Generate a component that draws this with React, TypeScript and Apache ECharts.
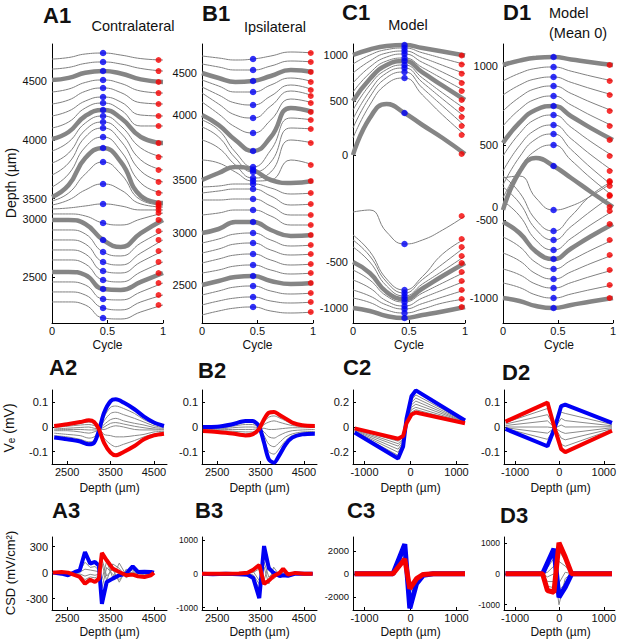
import React, { useEffect, useRef } from "react";
import * as echarts from "echarts";

const FONT = "'Liberation Sans', Arial, Helvetica, sans-serif";

// ---------- Row 1: traces vs cycle (plotted depth units) ----------
const cycleT = [0, 0.15, 0.3, 0.46, 0.62, 0.8, 1];
const blueCycle = 0.46;
const depthTickLabels = ["4500", "4000", "3500", "3000", "2500"];
const modelTickLabels = ["1000", "500", "0", "-500", "-1000"];

const a1Traces = [
  [4687, 4700, 4730, 4738, 4721, 4691, 4679],
  [4602, 4616, 4650, 4662, 4645, 4607, 4585],
  [4509, 4527, 4570, 4585, 4564, 4514, 4492],
  [4407, 4432, 4488, 4509, 4480, 4415, 4398],
  [4305, 4339, 4413, 4441, 4402, 4316, 4305],
  [4203, 4245, 4330, 4364, 4322, 4211, 4203],
  [4101, 4152, 4271, 4313, 4254, 4118, 4118],
  [4007, 4067, 4203, 4254, 4186, 4024, 3973],
  [3905, 3982, 4143, 4203, 4118, 3931, 3854],
  [3803, 3888, 4084, 4152, 4058, 3829, 3744],
  [3701, 3803, 4024, 4101, 3990, 3735, 3642],
  [3599, 3710, 3939, 4024, 3905, 3633, 3548],
  [3514, 3616, 3846, 3931, 3812, 3523, 3463],
  [3480, 3548, 3710, 3812, 3710, 3489, 3446],
  [3446, 3489, 3574, 3625, 3574, 3455, 3429],
  [3412, 3421, 3438, 3455, 3438, 3404, 3404],
  [3370, 3370, 3353, 3293, 3276, 3327, 3378],
  [3319, 3319, 3285, 3149, 3089, 3208, 3319],
  [3234, 3234, 3200, 3047, 3013, 3123, 3225],
  [3149, 3149, 3115, 2962, 2936, 3038, 3149],
  [3064, 3064, 3030, 2885, 2868, 2962, 3055],
  [2979, 2979, 2945, 2809, 2792, 2877, 2962],
  [2877, 2877, 2851, 2732, 2724, 2792, 2868],
  [2792, 2792, 2766, 2647, 2639, 2707, 2783],
  [2707, 2707, 2681, 2571, 2554, 2622, 2681],
  [2622, 2622, 2596, 2486, 2477, 2537, 2596],
];
const a1Thick = [2, 7, 12, 17, 22];
const a1TickValues = [4500, 4000, 3500, 3330, 2830];

const b1Traces = [
  [4670, 4650, 4630, 4640, 4670, 4710, 4700],
  [4590, 4560, 4530, 4530, 4570, 4620, 4610],
  [4500, 4450, 4410, 4420, 4470, 4530, 4510],
  [4430, 4370, 4310, 4310, 4380, 4450, 4410],
  [4360, 4280, 4200, 4180, 4270, 4380, 4330],
  [4300, 4190, 4080, 4050, 4170, 4320, 4270],
  [4210, 4090, 3960, 3900, 4030, 4240, 4200],
  [4080, 3980, 3830, 3720, 3860, 4150, 4110],
  [4030, 3930, 3710, 3560, 3730, 4050, 4030],
  [3960, 3860, 3650, 3510, 3610, 3950, 3940],
  [3830, 3750, 3580, 3450, 3510, 3830, 3800],
  [3630, 3600, 3510, 3420, 3430, 3630, 3580],
  [3430, 3500, 3560, 3530, 3430, 3400, 3420],
  [3360, 3370, 3390, 3390, 3350, 3290, 3300],
  [3300, 3320, 3340, 3340, 3270, 3180, 3190],
  [3230, 3230, 3240, 3240, 3170, 3080, 3080],
  [3080, 3100, 3130, 3130, 3070, 2980, 2980],
  [2900, 2940, 3010, 3010, 2930, 2870, 2880],
  [2800, 2840, 2890, 2900, 2830, 2770, 2780],
  [2700, 2740, 2790, 2800, 2730, 2680, 2690],
  [2600, 2640, 2680, 2690, 2630, 2580, 2590],
  [2500, 2530, 2570, 2580, 2530, 2490, 2500],
  [2380, 2420, 2460, 2470, 2420, 2390, 2400],
  [2280, 2320, 2360, 2370, 2320, 2290, 2300],
  [2180, 2220, 2250, 2260, 2220, 2200, 2210],
  [2080, 2120, 2150, 2160, 2120, 2100, 2110],
];
const b1Thick = [2, 7, 12, 17, 22];
const b1TickValues = [4500, 4080, 3430, 2900, 2380];

const c1Traces = [
  [1020, 1075, 1110, 1120, 1090, 1055, 1015],
  [930, 1020, 1074, 1090, 1042, 986, 925],
  [840, 960, 1040, 1060, 994, 917, 833],
  [740, 900, 1000, 1030, 946, 848, 740],
  [650, 840, 960, 990, 894, 782, 660],
  [560, 780, 920, 960, 846, 713, 570],
  [470, 720, 875, 920, 790, 640, 480],
  [380, 660, 840, 890, 746, 580, 400],
  [290, 600, 794, 850, 690, 510, 310],
  [190, 520, 730, 790, 620, 420, 220],
  [20, 390, 530, 440, 320, 190, 30],
  [-550, -530, -750, -870, -830, -730, -590],
  [-780, -945, -1220, -1330, -1195, -970, -820],
  [-830, -990, -1250, -1360, -1225, -1070, -900],
  [-900, -1050, -1290, -1390, -1270, -1140, -990],
  [-1050, -1160, -1350, -1420, -1315, -1190, -1060],
  [-1130, -1230, -1390, -1450, -1360, -1260, -1150],
  [-1230, -1310, -1440, -1490, -1410, -1330, -1240],
  [-1330, -1390, -1480, -1520, -1465, -1400, -1330],
  [-1410, -1455, -1530, -1560, -1520, -1460, -1420],
  [-1510, -1540, -1590, -1610, -1580, -1545, -1500],
];
const c1Thick = [0, 5, 10, 15, 20];
const c1TickValues = [1020, 560, 20, -1050, -1510];

const d1Traces = [
  [1010, 1054, 1082, 1090, 1066, 1038, 1010],
  [850, 927, 976, 990, 948, 899, 850],
  [710, 809, 872, 890, 836, 773, 710],
  [550, 687, 775, 800, 725, 637, 550],
  [400, 565, 670, 700, 610, 505, 400],
  [230, 433, 563, 600, 498, 379, 260],
  [100, 325, 470, 510, 387, 243, 100],
  [-50, 203, 364, 410, 272, 111, -50],
  [-190, 90, 270, 320, 164, -18, -200],
  [-320, -29, 157, 210, 57, -122, -300],
  [-440, -60, 80, 0, -120, -260, -410],
  [-120, -100, -320, -440, -400, -300, -160],
  [-100, -265, -540, -650, -500, -293, -150],
  [-210, -370, -634, -740, -605, -450, -290],
  [-350, -497, -742, -840, -723, -587, -450],
  [-560, -670, -856, -930, -825, -703, -580],
  [-710, -806, -966, -1030, -943, -842, -740],
  [-870, -948, -1078, -1130, -1058, -974, -890],
  [-1030, -1087, -1182, -1220, -1166, -1103, -1040],
  [-1170, -1215, -1290, -1320, -1280, -1235, -1190],
  [-1320, -1350, -1400, -1420, -1390, -1355, -1320],
];
const d1Thick = [0, 5, 10, 15, 20];
const d1TickValues = [1000, 210, -410, -540, -1320];

// ---------- Row 2: Ve profiles (mV) vs depth ----------
const a2Depth = [2200, 2500, 2800, 3000, 3120, 3230, 3350, 3500, 3620, 3800, 4050, 4270, 4500, 4730];
const a2Blue = [-0.043, -0.05, -0.059, -0.07, -0.064, -0.016, 0.058, 0.105, 0.112, 0.099, 0.072, 0.042, 0.018, 0.004];
const a2Red = [0.004, 0.011, 0.02, 0.027, 0.02, -0.009, -0.064, -0.104, -0.115, -0.101, -0.077, -0.05, -0.034, -0.027];
const a2Gray = [
  [-0.035, -0.04, -0.05, -0.06, -0.055, -0.02, 0.04, 0.08, 0.085, 0.075, 0.055, 0.03, 0.012, 0.002],
  [-0.025, -0.03, -0.035, -0.045, -0.04, -0.015, 0.025, 0.055, 0.06, 0.05, 0.035, 0.02, 0.005, -0.002],
  [-0.015, -0.015, -0.02, -0.025, -0.02, -0.01, 0.01, 0.03, 0.035, 0.025, 0.015, 0.008, -0.002, -0.006],
  [-0.012, -0.01, -0.01, -0.012, -0.012, -0.01, 0.0, 0.015, 0.018, 0.012, 0.003, -0.003, -0.008, -0.01],
  [-0.008, -0.005, -0.002, 0.0, -0.005, -0.008, -0.01, 0.0, 0.005, 0.0, -0.01, -0.012, -0.012, -0.012],
  [-0.002, 0.003, 0.008, 0.01, 0.006, -0.005, -0.03, -0.035, -0.04, -0.04, -0.035, -0.03, -0.02, -0.018],
  [0.0, 0.007, 0.015, 0.02, 0.014, -0.007, -0.045, -0.07, -0.08, -0.07, -0.055, -0.04, -0.028, -0.022],
];

const b2Depth = [2170, 2500, 2850, 3150, 3310, 3460, 3580, 3690, 3810, 3920, 4080, 4230, 4460, 4750];
const b2Blue = [0, 0.001, 0.011, 0.024, 0.024, 0.004, -0.064, -0.131, -0.145, -0.118, -0.07, -0.043, -0.03, -0.027];
const b2Red = [-0.016, -0.02, -0.026, -0.034, -0.03, -0.009, 0.031, 0.058, 0.061, 0.051, 0.034, 0.018, 0.007, 0.004];
const b2Gray = [
  [0.0, 0.0, 0.008, 0.018, 0.018, 0.0, -0.05, -0.1, -0.11, -0.09, -0.055, -0.035, -0.025, -0.022],
  [-0.003, -0.004, 0.003, 0.01, 0.01, -0.002, -0.035, -0.07, -0.08, -0.065, -0.04, -0.028, -0.02, -0.018],
  [-0.006, -0.008, -0.003, 0.0, 0.0, -0.004, -0.02, -0.04, -0.045, -0.035, -0.022, -0.015, -0.012, -0.01],
  [-0.009, -0.011, -0.01, -0.01, -0.01, -0.006, -0.005, -0.01, -0.01, -0.008, -0.005, -0.003, -0.003, -0.002],
  [-0.012, -0.015, -0.017, -0.02, -0.02, -0.008, 0.01, 0.02, 0.025, 0.02, 0.012, 0.006, 0.002, 0.001],
  [-0.014, -0.018, -0.022, -0.028, -0.025, -0.008, 0.02, 0.04, 0.045, 0.038, 0.025, 0.012, 0.005, 0.003],
];

const c2Depth = [-1215, -270, -160, -87, 22, 116, 1185];
const c2Blue = [-0.045, -0.255, -0.157, 0.067, 0.249, 0.297, 0.053];
const c2Red = [-0.011, -0.095, -0.073, 0.03, 0.101, 0.118, 0.031];
const c2Gray = [
  [-0.04, -0.23, -0.14, 0.06, 0.22, 0.26, 0.048],
  [-0.035, -0.205, -0.13, 0.055, 0.2, 0.235, 0.045],
  [-0.03, -0.18, -0.12, 0.05, 0.18, 0.21, 0.042],
  [-0.025, -0.155, -0.105, 0.047, 0.16, 0.185, 0.04],
  [-0.02, -0.135, -0.095, 0.045, 0.14, 0.16, 0.037],
  [-0.015, -0.115, -0.085, 0.042, 0.12, 0.14, 0.034],
];

const d2Depth = [-1215, -269, -100, 40, 131, 1185];
const d2Blue = [-0.008, -0.078, 0.0, 0.085, 0.091, 0.017];
const d2Red = [0.022, 0.099, -0.01, -0.09, -0.102, -0.015];
const d2Gray = [
  [0.018, 0.075, 0.0, -0.07, -0.078, -0.011],
  [0.012, 0.05, -0.002, -0.045, -0.052, -0.007],
  [0.006, 0.025, -0.004, -0.02, -0.026, -0.003],
  [0.0, 0.0, -0.004, 0.008, 0.0, 0.001],
  [-0.003, -0.025, -0.003, 0.035, 0.026, 0.005],
  [-0.006, -0.05, -0.002, 0.06, 0.055, 0.01],
];

// ---------- Row 3: CSD profiles (mV/cm^2) vs depth ----------
const a3Depth = [2170, 2370, 2520, 2680, 2790, 2910, 3030, 3140, 3230, 3300, 3410, 3550, 3700, 3860, 4010, 4130, 4280, 4430, 4500];
const a3Blue = [0, -12, -30, 8, 27, 238, 104, 123, 80, -358, -108, -69, -31, -12, 73, 8, 10, 8, 0];
const a3Red = [0, 8, 0, -30, -50, -127, -81, -108, -69, 227, 142, 46, 8, -31, -23, -42, -50, -31, 0];
const a3Gray = [
  [0, -5, -15, 5, 15, 120, 60, 70, 30, -180, 60, -20, -80, 10, 30, 5, 5, 5, 0],
  [0, 5, -5, -10, -15, -40, -20, -30, -20, 100, -90, 100, 50, -60, 0, -10, -15, -10, 0],
  [0, 0, -10, 0, 5, 40, 30, 20, 10, -80, 130, -60, 110, -30, 10, 0, -5, 0, 0],
  [0, 3, -8, -15, -25, -80, -50, -60, -40, 160, -40, 40, -110, 40, -20, -10, -25, -15, 0],
];

const b3Depth = [2150, 2400, 2700, 3000, 3200, 3330, 3470, 3580, 3690, 3800, 3940, 4020, 4130, 4300, 4500, 4700];
const b3Blue = [0, -10, 5, -15, -30, -120, -720, 822, 168, 28, -65, -40, -60, 10, 0, 0];
const b3Red = [0, 5, 0, 10, 30, 120, 262, -299, -200, -65, 28, 150, -19, 28, 0, 0];
const b3Gray = [
  [0, -5, 0, -10, -20, -80, -450, 500, 120, 20, -40, -20, -40, 5, 0, 0],
  [0, 0, 3, 0, 10, 40, 150, -200, 300, -150, 20, 60, -20, 10, 0, 0],
  [0, 3, 0, 5, 15, 70, -200, 200, -300, 200, -50, 80, -10, 15, 0, 0],
  [0, -3, 2, -5, -10, -30, -300, 350, -100, 50, 0, 30, -30, 5, 0, 0],
];

const c3Depth = [-1215, -380, -124, -15, 131, 276, 494, 1185];
const c3Blue = [0, 0, 2570, -3000, -860, -140, 0, 0];
const c3Red = [0, 0, 1290, -1290, -430, -60, 0, 0];
const c3Gray = [
  [0, 0, 2200, -2600, -750, -120, 0, 0],
  [0, 0, 1900, -2200, -650, -100, 0, 0],
  [0, 0, 1600, -1700, -550, -80, 0, 0],
];

const d3Depth = [-1215, -380, -270, -124, -10, 131, 276, 1185];
const d3Blue = [0, 0, 350, 810, -760, -430, 0, 0];
const d3Red = [0, 0, -540, -595, 1000, 540, 0, 0];
const d3Gray = [
  [0, 0, 200, 500, -550, -300, 0, 0],
  [0, 0, 50, 250, -1000, -150, 0, 0],
  [0, 0, -100, 0, -300, 50, 0, 0],
  [0, 0, -250, -250, 400, 250, 0, 0],
  [0, 0, -400, -450, 750, 420, 0, 0],
];

// ---------- builders ----------
const BLUE = "#0000f5";
const RED = "#f50000";
const GRAY = "#808080";

function makeAxis(gi: number, dim: "x" | "y", min: number, max: number, ticks: number[], labels: string[] | null, margin: number, fontSize: number) {
  return {
    type: "value",
    gridIndex: gi,
    min,
    max,
    position: dim === "x" ? "bottom" : "left",
    axisLine: { show: true, onZero: false, lineStyle: { color: "#000", width: 1 } },
    axisTick: { show: true, inside: true, length: 3, customValues: ticks, lineStyle: { color: "#000", width: 1 } },
    axisLabel: {
      show: true,
      customValues: ticks,
      margin,
      fontSize,
      fontFamily: FONT,
      color: "#111",
      formatter: (v: number) => {
        if (!labels) return String(v);
        const i = ticks.indexOf(v);
        return i >= 0 ? labels[i] : "";
      },
    },
    splitLine: { show: false },
    splitArea: { show: false },
  };
}

function buildOption() {
  const grids: any[] = [];
  const xAxes: any[] = [];
  const yAxes: any[] = [];
  const series: any[] = [];

  const addGrid = (left: number, top: number, width: number, height: number) => {
    grids.push({ left, top, width, height, containLabel: false });
    return grids.length - 1;
  };
  const lineSeries = (gi: number, xs: number[], ys: number[], color: string, width: number, smooth: number | boolean, z: number) => ({
    type: "line",
    xAxisIndex: gi,
    yAxisIndex: gi,
    data: xs.map((x, i) => [x, ys[i]]),
    symbol: "none",
    showSymbol: false,
    smooth,
    lineStyle: { color, width },
    silent: true,
    z,
  });

  const row1 = [
    { traces: a1Traces, thick: a1Thick, left: 52, width: 111, yMin: 2443, yMax: 4815, ticks: a1TickValues, labels: depthTickLabels, redT: 0.96 },
    { traces: b1Traces, thick: b1Thick, left: 202, width: 111, yMin: 2000, yMax: 4790, ticks: b1TickValues, labels: depthTickLabels, redT: 0.98 },
    { traces: c1Traces, thick: c1Thick, left: 353, width: 112, yMin: -1660, yMax: 1130, ticks: c1TickValues, labels: modelTickLabels, redT: 0.97 },
    { traces: d1Traces, thick: d1Thick, left: 503, width: 112, yMin: -1570, yMax: 1220, ticks: d1TickValues, labels: modelTickLabels, redT: 0.97 },
  ];
  row1.forEach((p) => {
    const gi = addGrid(p.left, 44, p.width, 279);
    xAxes.push(makeAxis(gi, "x", 0, 1, [0, 0.5, 1], null, 2, 11));
    yAxes.push(makeAxis(gi, "y", p.yMin, p.yMax, p.ticks, p.labels, 5, 11));
    p.traces.forEach((tr, k) => {
      const thick = p.thick.indexOf(k) >= 0;
      series.push(lineSeries(gi, cycleT, tr, thick ? "#858585" : GRAY, thick ? 4.5 : 1, 0.5, thick ? 3 : 2));
    });
    series.push({
      type: "scatter", xAxisIndex: gi, yAxisIndex: gi, symbol: "circle", symbolSize: 6.5, silent: true, z: 5,
      itemStyle: { color: BLUE }, data: p.traces.map((tr) => [blueCycle, tr[3]]),
    });
    series.push({
      type: "scatter", xAxisIndex: gi, yAxisIndex: gi, symbol: "circle", symbolSize: 6, silent: true, z: 5,
      itemStyle: { color: RED }, data: p.traces.map((tr) => [p.redT, tr[6]]),
    });
  });

  const profile = (p: any, top: number, height: number) => {
    const gi = addGrid(p.left, top, p.width, height);
    xAxes.push(makeAxis(gi, "x", p.xMin, p.xMax, p.xTicks, null, 2, 11));
    yAxes.push(makeAxis(gi, "y", p.yMin, p.yMax, p.yTicks, null, 4, p.yFont));
    p.gray.forEach((g: number[]) => series.push(lineSeries(gi, p.depth, g, "#8a8a8a", 1, p.smooth, 2)));
    series.push(lineSeries(gi, p.depth, p.blue, BLUE, p.lw, p.smooth, 3));
    series.push(lineSeries(gi, p.depth, p.red, RED, p.lw, p.smooth, 4));
  };

  const depthA = { xMin: 2150, xMax: 4800, xTicks: [2500, 3500, 4500] };
  const depthC = { xMin: -1250, xMax: 1250, xTicks: [-1000, 0, 1000] };

  profile({ ...depthA, depth: a2Depth, blue: a2Blue, red: a2Red, gray: a2Gray, left: 52, width: 115, yMin: -0.15, yMax: 0.15, yTicks: [-0.1, 0, 0.1], yFont: 11, smooth: 0.3, lw: 4 }, 390, 74);
  profile({ ...depthA, depth: b2Depth, blue: b2Blue, red: b2Red, gray: b2Gray, left: 202, width: 115, yMin: -0.15, yMax: 0.15, yTicks: [-0.1, 0, 0.1], yFont: 11, smooth: 0.3, lw: 4 }, 390, 74);
  profile({ ...depthC, depth: c2Depth, blue: c2Blue, red: c2Red, gray: c2Gray, left: 353, width: 115, yMin: -0.3, yMax: 0.3, yTicks: [-0.2, 0, 0.2], yFont: 11, smooth: false, lw: 4 }, 390, 74);
  profile({ ...depthC, depth: d2Depth, blue: d2Blue, red: d2Red, gray: d2Gray, left: 504, width: 113, yMin: -0.15, yMax: 0.15, yTicks: [-0.1, 0, 0.1], yFont: 11, smooth: false, lw: 4 }, 390, 74);

  profile({ ...depthA, depth: a3Depth, blue: a3Blue, red: a3Red, gray: a3Gray, left: 52, width: 115, yMin: -430, yMax: 410, yTicks: [-300, 0, 300], yFont: 11, smooth: false, lw: 4 }, 537, 73);
  profile({ ...depthA, depth: b3Depth, blue: b3Blue, red: b3Red, gray: b3Gray, left: 202, width: 115, yMin: -1070, yMax: 1090, yTicks: [-1000, 0, 1000], yFont: 8.5, smooth: false, lw: 4 }, 537, 73);
  profile({ ...depthC, depth: c3Depth, blue: c3Blue, red: c3Red, gray: c3Gray, left: 353, width: 115, yMin: -3150, yMax: 3200, yTicks: [-2000, 0, 2000], yFont: 9.5, smooth: false, lw: 5 }, 537, 73);
  profile({ ...depthC, depth: d3Depth, blue: d3Blue, red: d3Red, gray: d3Gray, left: 504, width: 113, yMin: -1170, yMax: 1190, yTicks: [-1000, 0, 1000], yFont: 8.5, smooth: false, lw: 5 }, 537, 73);

  const txt = (text: string, x: number, y: number, size: number, opts: any = {}) => ({
    type: "text",
    x,
    y,
    rotation: opts.rotation || 0,
    silent: true,
    z: 100,
    style: {
      text,
      font: `${opts.bold ? "bold " : ""}${size}px ${FONT}`,
      fill: "#111",
      align: opts.align || "center",
      textAlign: opts.align || "center",
      verticalAlign: "middle",
      textVerticalAlign: "middle",
      rich: opts.rich,
    },
  });

  const titles: [string, number, number][] = [
    ["A1", 43, 15], ["B1", 202, 13], ["C1", 342, 12], ["D1", 503, 12],
    ["A2", 49, 367], ["B2", 198, 370], ["C2", 343, 367], ["D2", 502, 372],
    ["A3", 52, 510], ["B3", 195, 510], ["C3", 347, 510], ["D3", 500, 515],
  ];
  const elements: any[] = titles.map(([t, x, y]) => txt(t, x, y, 22, { bold: true, align: "left" }));
  elements.push(txt("Contralateral", 133, 26, 14.5));
  elements.push(txt("Ipsilateral", 275, 27, 14.5));
  elements.push(txt("Model", 408, 25, 14.5));
  elements.push(txt("Model", 549, 13, 14.5, { align: "left" }));
  elements.push(txt("(Mean 0)", 549, 33, 14.5, { align: "left" }));
  elements.push(txt("Depth (µm)", 11, 183, 14, { rotation: Math.PI / 2 }));
  [107.5, 257.5, 409, 559].forEach((x) => elements.push(txt("Cycle", x, 345, 12)));
  elements.push(
    txt("V{sub|e} (mV)", 9, 428, 14, {
      rotation: Math.PI / 2,
      rich: { sub: { fontSize: 10, fontFamily: FONT, verticalAlign: "bottom", fill: "#111" } },
    })
  );
  [109.5, 259.5, 410.5, 560.5].forEach((x) => elements.push(txt("Depth (µm)", x, 488, 12)));
  elements.push(txt("CSD (mV/cm²)", 10, 573, 13, { rotation: Math.PI / 2 }));
  [109.5, 259.5, 410.5, 560.5].forEach((x) => elements.push(txt("Depth (µm)", x, 632, 12)));

  return {
    animation: false,
    backgroundColor: "#ffffff",
    grid: grids,
    xAxis: xAxes,
    yAxis: yAxes,
    series,
    graphic: { elements },
  };
}

export default function App() {
  const ref = useRef<HTMLDivElement>(null);
  useEffect(() => {
    if (!ref.current) return;
    const chart = echarts.init(ref.current, null, { renderer: "svg" });
    chart.setOption(buildOption() as any);
    return () => chart.dispose();
  }, []);
  return (
    <div
      ref={ref}
      style={{ position: "absolute", left: 0, top: 0, width: 619, height: 639, background: "#fff" }}
    />
  );
}
